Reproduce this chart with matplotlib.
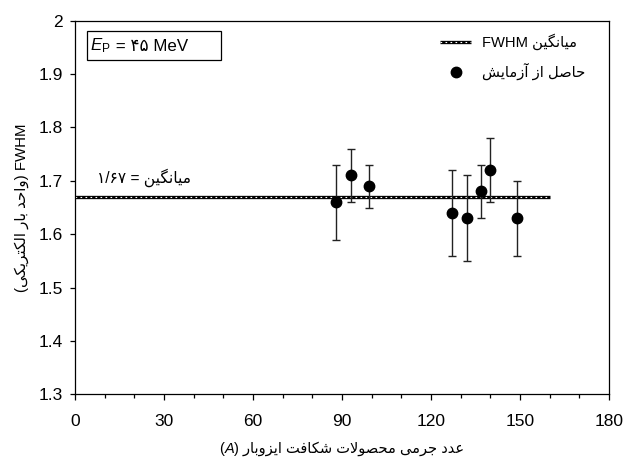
import matplotlib
matplotlib.use("Agg")
import matplotlib.pyplot as plt
from matplotlib.legend_handler import HandlerTuple
from matplotlib.ticker import MultipleLocator
from matplotlib.patches import Rectangle
from matplotlib.offsetbox import TextArea, HPacker, AnchoredOffsetbox

# data
mass_number = [88, 93, 99, 127, 132, 137, 140, 149]
fwhm = [1.66, 1.71, 1.69, 1.64, 1.63, 1.68, 1.72, 1.63]
fwhm_err = [0.07, 0.05, 0.04, 0.08, 0.08, 0.05, 0.06, 0.07]
mean_fwhm = 1.67
mean_range = [0, 160]
x_ticks = [0, 30, 60, 90, 120, 150, 180]
y_ticks = [1.3, 1.4, 1.5, 1.6, 1.7, 1.8, 1.9, 2.0]
y_tick_labels = ["1.3", "1.4", "1.5", "1.6", "1.7", "1.8", "1.9", "2"]

# matplotlib has no arabic shaping, so do it by hand (presentation forms)
FORMS = {
    'ا': ('\uFE8D', '\uFE8E', None, None),
    'آ': ('\uFE81', '\uFE82', None, None),
    'ب': ('\uFE8F', '\uFE90', '\uFE91', '\uFE92'),
    'ت': ('\uFE95', '\uFE96', '\uFE97', '\uFE98'),
    'ج': ('\uFE9D', '\uFE9E', '\uFE9F', '\uFEA0'),
    'ح': ('\uFEA1', '\uFEA2', '\uFEA3', '\uFEA4'),
    'د': ('\uFEA9', '\uFEAA', None, None),
    'ر': ('\uFEAD', '\uFEAE', None, None),
    'ز': ('\uFEAF', '\uFEB0', None, None),
    'ش': ('\uFEB5', '\uFEB6', '\uFEB7', '\uFEB8'),
    'ص': ('\uFEB9', '\uFEBA', '\uFEBB', '\uFEBC'),
    'ع': ('\uFEC9', '\uFECA', '\uFECB', '\uFECC'),
    'ف': ('\uFED1', '\uFED2', '\uFED3', '\uFED4'),
    '\u06A9': ('\uFB8E', '\uFB8F', '\uFB90', '\uFB91'),
    '\u06AF': ('\uFB92', '\uFB93', '\uFB94', '\uFB95'),
    'ل': ('\uFEDD', '\uFEDE', '\uFEDF', '\uFEE0'),
    'م': ('\uFEE1', '\uFEE2', '\uFEE3', '\uFEE4'),
    'ن': ('\uFEE5', '\uFEE6', '\uFEE7', '\uFEE8'),
    'و': ('\uFEED', '\uFEEE', None, None),
    '\u06CC': ('\uFBFC', '\uFBFD', '\uFBFE', '\uFBFF'),
}


def shape(text):
    chars = list(text.replace('\u064A', '\u06CC').replace('\u0643', '\u06A9'))
    out = []
    i = 0
    while i < len(chars):
        c = chars[i]
        if c not in FORMS:
            out.append(c)
            i += 1
            continue
        prev = chars[i - 1] if i > 0 else None
        joins_prev = prev in FORMS and FORMS[prev][2] is not None
        nxt = chars[i + 1] if i + 1 < len(chars) else None
        if c == 'ل' and nxt == 'ا':
            out.append('\uFEFC' if joins_prev else '\uFEFB')
            i += 2
            continue
        iso, fin, ini, med = FORMS[c]
        joins_next = ini is not None and nxt in FORMS
        if joins_prev and joins_next:
            out.append(med)
        elif joins_prev:
            out.append(fin)
        elif joins_next:
            out.append(ini)
        else:
            out.append(iso)
        i += 1
    return ''.join(out)


def rtl(text):
    return shape(text)[::-1]


plt.rcParams['font.family'] = ['Liberation Sans', 'DejaVu Sans']
plt.rcParams['mathtext.fontset'] = 'custom'
plt.rcParams['mathtext.rm'] = 'Liberation Sans'
plt.rcParams['mathtext.it'] = 'Liberation Sans:italic'

fig = plt.figure(figsize=(6.26, 4.62), dpi=100)
ax = fig.add_axes([0.1198, 0.1465, 0.853, 0.8087])

# mean line: thick black with small white dashes inside
l_black, = ax.plot(mean_range, [mean_fwhm, mean_fwhm], color='black', lw=2.4,
                   solid_capstyle='butt', zorder=2)
l_white, = ax.plot(mean_range, [mean_fwhm, mean_fwhm], color='white', lw=0.8,
                   ls=(0, (1.5, 3.0)), zorder=2.1)

pts = ax.errorbar(mass_number, fwhm, yerr=fwhm_err, fmt='o', color='black',
                  ms=7.5, ecolor='#222222', elinewidth=1, capsize=2.6,
                  capthick=1, zorder=3)

ax.text(7.5, 1.706, "۱/۶۷ = " + rtl("میانگین"), fontsize=11.2, va='center')

ax.set_xlim(0, 180)
ax.set_ylim(1.3, 2.0)
ax.set_xticks(x_ticks)
ax.set_yticks(y_ticks)
ax.set_yticklabels(y_tick_labels)
ax.xaxis.set_minor_locator(MultipleLocator(10))
ax.tick_params(axis='x', which='major', direction='out', length=4, width=0.9,
               labelsize=12.5, pad=10)
ax.tick_params(axis='x', which='minor', direction='out', length=3, width=0.9)
ax.tick_params(axis='y', direction='out', length=3.5, width=0.9,
               labelsize=12.5, pad=5)
for s in ax.spines.values():
    s.set_linewidth(0.9)

ax.set_ylabel("(" + rtl("واحد بار الکتریکی") + ") FWHM", fontsize=10.8, labelpad=7)

# x label with italic A
xl = HPacker(children=[
    TextArea("(", textprops=dict(fontsize=10.5)),
    TextArea("A", textprops=dict(fontsize=10.5, style='italic')),
    TextArea(") " + rtl("عدد جرمی محصولات شکافت ایزوبار"), textprops=dict(fontsize=10.5)),
], align='baseline', pad=0, sep=0)
ax.add_artist(AnchoredOffsetbox(loc='center', child=xl, frameon=False, pad=0,
                                borderpad=0, bbox_to_anchor=(0.5, -0.146),
                                bbox_transform=ax.transAxes))

# energy box
ax.add_patch(Rectangle((0.0225, 0.8948), 0.251, 0.0776, transform=ax.transAxes,
                       fill=False, edgecolor='black', lw=0.9, zorder=4))
ep = HPacker(children=[
    TextArea(r"$\mathit{E}_{\mathrm{P}}$", textprops=dict(fontsize=12.2)),
    TextArea(" = ۴۵ MeV", textprops=dict(fontsize=12.2)),
], align='baseline', pad=0, sep=0)
ax.add_artist(AnchoredOffsetbox(loc='center left', child=ep, frameon=False, pad=0,
                                borderpad=0, bbox_to_anchor=(0.029, 0.932),
                                bbox_transform=ax.transAxes))

ax.legend([(l_black, l_white), pts.lines[0]],
          ["FWHM " + rtl("میانگین"), rtl("حاصل از آزمایش")],
          handler_map={tuple: HandlerTuple(ndivide=1)},
          loc='upper right', bbox_to_anchor=(0.955, 0.965), frameon=False,
          fontsize=10.6, borderpad=0, borderaxespad=0, handlelength=2.1,
          handletextpad=0.7, labelspacing=0.85, numpoints=1)

fig.savefig("out.png", dpi=100)
